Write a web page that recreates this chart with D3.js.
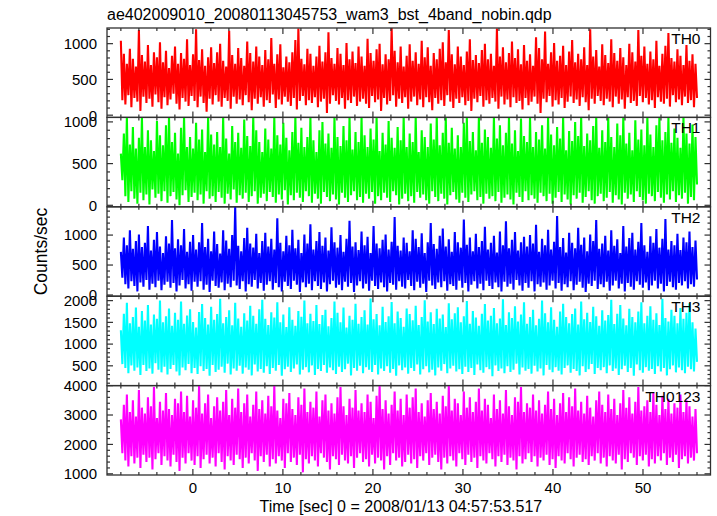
<!DOCTYPE html>
<html><head><meta charset="utf-8">
<script src="https://cdn.jsdelivr.net/npm/d3@7/dist/d3.min.js"></script>
<style>
body{margin:0;background:#fff;}
text{font-family:"Liberation Sans",Arial,Helvetica,sans-serif;fill:#000;}
</style></head>
<body><svg id="chart" width="717" height="516"></svg>
<script>
// ---- data ----
const chartTitle = "ae402009010_20080113045753_wam3_bst_4band_nobin.qdp";
const xLabel = "Time [sec] 0 = 2008/01/13 04:57:53.517";
const yLabel = "Counts/sec";
const panelNames = ["TH0","TH1","TH2","TH3","TH0123"];
const panelColors = ["#ff0000","#00ff00","#0000ff","#00ffff","#ff00ff"];
const timeStart = -8, timeEnd = 56;
const xTickValues = [0,10,20,30,40,50];
const yTickValues = [[0,500,1000],[0,500,1000],[0,500,1000],[500,1000,1500,2000],[1000,2000,3000,4000]];

const th0 = [
1040,210,860,150,720,280,930,110,790,240,680,190,1190,60,840,260,
750,170,980,230,700,120,880,290,810,180,1020,90,740,250,900,140,
660,220,830,300,960,160,720,80,870,240,790,190,1060,130,700,270,
850,200,1200,110,770,260,920,170,690,50,810,230,950,150,730,280,
880,190,1000,120,760,240,680,200,1180,90,840,260,720,160,940,220,
800,140,690,280,1030,180,870,70,750,230,960,160,820,250,700,120,
910,210,780,170,1080,290,720,100,850,220,990,150,670,260,820,190,
740,130,880,240,1050,80,1210,200,790,270,710,140,930,210,860,170,
690,250,820,110,970,190,750,230,880,30,1160,160,800,280,720,200,
940,150,860,240,700,90,1010,210,780,170,890,260,730,130,960,190,
820,230,690,160,1070,100,870,270,760,180,920,220,1000,60,710,240,
850,150,780,200,1220,280,900,120,740,230,960,170,680,250,830,90,
990,190,760,260,880,140,720,220,1040,110,810,250,950,180,690,70,
870,240,780,160,930,210,1020,130,740,280,1190,190,850,100,710,230,
960,170,820,250,700,140,890,200,1060,60,770,230,840,180,730,270,
910,120,1000,210,780,160,860,240,690,190,1210,90,820,260,950,150,
740,220,870,110,1030,250,800,170,920,200,710,80,980,240,760,140,
850,190,690,260,1090,160,940,30,780,230,1170,180,720,270,880,120,
1010,210,760,150,830,240,970,100,700,190,890,260,1050,170,740,220,
860,130,780,250,950,180,700,70,1200,230,820,160,910,270,680,200,
990,140,840,230,730,190,1060,110,870,260,760,160,940,220,810,90,
700,250,1000,170,880,200,750,130,1190,270,830,180,960,240,720,150,
890,210,780,100,1040,250,690,190,860,160,970,230,1150,120,800,280,
750,180,920,220,830,140,700,260,980,170,760,210,850,110,720,240];

const th1 = [
620,300,860,110,1060,40,730,170,940,80,680,20,810,150,1060,60,
700,130,900,10,780,190,650,90,1010,140,840,50,720,170,960,30,
1060,110,760,160,870,70,620,0,930,120,1060,180,700,40,820,100,
680,150,990,60,790,130,910,20,640,170,1060,80,850,110,730,40,
880,160,700,90,1060,20,800,140,620,70,950,190,760,30,870,120,
690,80,1030,150,830,40,710,110,1060,170,900,20,760,90,640,140,
920,50,790,160,680,100,1060,30,840,130,730,70,990,180,810,10,
660,120,880,60,1060,150,750,90,930,40,700,170,820,110,1060,30,
780,140,640,80,900,20,1000,160,740,100,860,50,690,130,1060,70,
820,10,710,150,950,90,780,40,1060,120,670,170,880,60,760,100,
1060,30,840,140,700,80,920,160,790,20,1060,110,650,60,870,150,
730,90,1010,40,810,170,690,120,940,10,780,80,1060,140,700,50,
860,110,760,30,1060,160,640,90,900,130,820,60,700,20,980,170,
790,100,1060,50,720,140,870,80,1060,10,750,120,930,160,680,70,
840,30,700,150,990,90,1060,40,770,130,880,170,660,60,1060,100,
750,20,910,140,820,80,690,110,1060,50,800,160,960,30,720,90,
870,130,1060,70,740,10,900,150,650,100,1040,40,830,170,760,60,
1060,120,700,80,880,30,790,150,960,110,680,50,1060,140,850,20,
720,90,940,160,800,40,1060,130,660,70,890,10,770,120,1000,80,
830,150,1060,30,710,100,860,170,780,60,950,20,1060,110,690,140,
900,50,760,90,1060,160,820,30,700,120,980,70,840,10,1060,150,
740,80,870,130,660,40,1020,170,790,100,910,60,720,20,1060,140,
850,110,700,50,960,160,1060,90,780,30,880,130,1060,70,750,170,
920,40,810,120,690,80,1060,150,860,20,740,100,970,60,820,250];

const th2 = [
720,290,960,180,830,110,1080,230,770,150,900,60,1010,210,800,140,
870,250,1150,90,740,190,920,130,1050,240,810,80,700,170,980,220,
860,120,1250,200,780,60,930,160,830,250,1100,110,720,180,890,70,
1000,220,760,140,880,230,1200,90,800,170,940,50,730,240,1060,150,
850,120,690,210,1080,80,910,190,770,130,1000,240,1470,160,820,100,
730,230,950,60,1120,180,860,140,790,250,1020,110,700,200,900,70,
1040,170,810,230,940,90,760,200,1280,130,870,60,730,220,990,150,
830,100,1090,240,780,170,920,50,700,210,1010,130,860,190,1180,80,
760,230,900,150,1050,100,820,210,960,60,740,180,1130,240,880,120,
790,170,1000,80,720,220,940,140,1240,200,810,50,880,160,750,230,
1060,110,830,190,970,70,700,240,1150,150,860,100,780,210,920,130,
1010,60,760,200,890,170,1300,90,820,230,740,140,960,110,870,250,
730,150,1080,80,940,220,800,120,1030,190,700,50,880,240,1200,160,
850,100,770,210,990,130,1110,230,810,70,930,180,720,150,1050,90,
880,240,790,120,1260,200,840,60,960,170,730,230,1020,110,800,190,
900,80,1140,240,760,150,870,100,990,210,710,130,1060,60,830,220,
1230,140,780,190,920,90,1050,250,740,160,880,70,970,200,810,120,
1000,230,860,60,1170,180,720,140,940,210,830,90,1090,160,760,240,
890,110,1320,200,800,70,950,180,710,130,1040,230,870,80,780,170,
1120,220,840,120,960,50,730,190,1010,150,900,240,1250,100,770,180,
860,130,990,220,740,70,1080,160,820,240,930,110,700,190,1150,60,
810,200,950,140,1040,90,760,230,890,170,1200,120,830,210,720,80,
980,160,870,240,1100,110,790,190,940,60,1270,150,760,220,900,130,
830,90,1020,200,750,160,960,230,880,110,1060,180,800,140,910,260];

const th3 = [
1320,540,1700,450,1950,330,1480,510,1620,390,1840,460,1400,290,1760,520,
1540,380,1900,440,1450,320,1680,560,1580,410,2000,350,1500,480,1640,300,
1820,430,1420,520,1720,370,1560,280,1980,460,1470,400,1660,540,1800,330,
1510,450,1380,310,1740,490,1920,380,1600,430,1450,270,1860,520,1560,360,
1690,410,2040,480,1480,340,1620,550,1780,300,1430,440,1950,390,1590,500,
1400,320,1710,460,1540,410,1880,280,1650,530,1470,370,1800,430,2020,340,
1580,490,1440,310,1730,450,1610,390,1960,520,1500,270,1680,420,1390,480,
1850,360,1560,440,1420,530,1760,300,1630,410,2000,470,1480,350,1700,510,
1530,290,1900,430,1460,380,1670,520,1790,340,1410,460,1600,400,1980,310,
1720,480,1500,360,1840,420,1380,550,1650,280,1560,450,1930,390,1470,500,
1620,330,1780,470,1450,410,2050,360,1570,520,1690,300,1430,440,1860,380,
1510,490,1640,340,1970,430,1480,270,1750,510,1600,400,1400,460,1820,320,
1690,450,1550,380,1880,530,1440,300,1620,420,2010,490,1520,350,1730,410,
1460,280,1810,460,1590,390,1680,540,1390,330,1940,440,1570,500,1710,370,
1850,420,1500,310,1640,480,1990,360,1470,450,1760,290,1610,530,1420,400,
1700,340,1920,470,1540,420,1650,260,1830,510,1480,380,1590,440,2030,330,
1440,490,1730,360,1600,410,1870,550,1520,300,1680,460,1960,390,1470,430,
1620,320,1790,500,1430,370,1580,440,2000,280,1710,520,1500,410,1850,350,
1560,470,1400,390,1750,300,1930,450,1620,510,1480,340,1690,430,1820,380,
1450,280,1980,490,1570,360,1720,420,1510,540,1860,310,1640,450,1420,400,
1780,470,1540,330,1670,510,2020,380,1460,440,1700,290,1900,420,1590,500,
1430,360,1810,450,1620,270,1500,530,1750,400,1960,340,1480,470,1650,390,
1870,430,1560,310,1710,490,1440,370,2040,450,1600,280,1520,420,1790,510,
1650,350,1480,460,1830,400,1580,330,1720,480,1940,420,1500,370,1360,590];

const th0123 = [
2850,1700,3350,1450,3700,1250,3100,1600,3500,1350,2950,1550,3850,1200,3250,1650,
3050,1400,3600,1550,3300,1150,3950,1500,2900,1700,3450,1300,3150,1600,3750,1450,
3200,1250,3000,1650,3550,1400,3400,1100,3800,1550,3100,1350,3650,1700,2950,1450,
3500,1300,3250,1600,4000,1200,3050,1500,3400,1650,3700,1350,2900,1550,3300,1250,
3600,1700,3150,1400,3450,1150,3850,1600,3000,1450,3550,1300,3250,1650,3900,1500,
3100,1200,3400,1550,3700,1350,2950,1700,3350,1450,3800,1100,3200,1600,3500,1400,
3050,1650,3650,1250,3300,1500,4000,1350,3150,1600,2900,1450,3550,1200,3400,1700,
3750,1400,3200,1550,3000,1300,3600,1650,3350,1050,3900,1500,3100,1350,3450,1600,
3250,1450,3800,1250,2950,1700,3500,1550,3700,1400,3150,1150,3400,1600,3050,1500,
3600,1300,3950,1650,3300,1450,3000,1350,3550,1600,3250,1200,3850,1550,3150,1700,
3400,1400,3100,1500,3700,1250,3450,1650,2900,1350,3650,1550,4000,1450,3200,1150,
3500,1600,3050,1300,3350,1700,3800,1450,3150,1550,3550,1250,3000,1400,3700,1650,
3250,1350,3600,1500,3900,1200,3100,1600,3400,1450,2950,1700,3500,1300,3750,1550,
3200,1650,3450,1400,3050,1150,3650,1550,3300,1350,4000,1600,3150,1450,3550,1250,
3400,1700,3000,1500,3800,1300,3250,1650,3600,1400,3100,1550,3450,1200,3900,1600,
3150,1450,3550,1350,3350,1700,2900,1500,3700,1250,3200,1600,3500,1400,3050,1650,
3850,1300,3300,1550,3000,1450,3600,1150,3450,1600,3950,1350,3100,1500,3400,1700,
3250,1400,3700,1600,3150,1250,3500,1550,3050,1450,3350,1650,3800,1300,3200,1500,
3550,1200,3000,1600,3400,1450,3750,1350,3100,1700,3600,1500,3300,1250,3900,1550,
3150,1650,3450,1400,3050,1500,3650,1300,3250,1600,2950,1450,3500,1700,3800,1350,
3350,1550,3100,1250,3700,1600,3200,1450,3550,1350,3000,1650,3400,1150,3850,1500,
3250,1400,3600,1700,3050,1550,3450,1300,3950,1600,3150,1450,3300,1650,3500,1250,
3100,1500,3750,1350,3350,1600,3000,1450,3650,1700,3200,1300,3550,1550,3050,1400,
3400,1650,3250,1200,3700,1500,3100,1600,3500,1350,3300,1550,2950,1450,3200,1700];

const seriesValues = [th0, th1, th2, th3, th0123];

// ---- layout ----
const plotLeft = 107, plotRight = 710.5, plotTop = 28, plotBottom = 475;
const yDomains = [[-31,1219],[-18,1054],[-20,1472],[45,2102],[960,4000]];
const yMinorSteps = [100,100,100,100,200];
const yMajorSteps = [500,500,500,500,1000];
const nP = panelNames.length;
const panelH = (plotBottom - plotTop) / nP;

const svg = d3.select("#chart");
const x = d3.scaleLinear().domain([-9.54, 57.5]).range([plotLeft, plotRight]);
const frameColor = "#303030";
const majorLen = 6, minorLen = 3;

svg.append("text").attr("x", plotLeft).attr("y", 20).attr("font-size", 16).text(chartTitle);

const defs = svg.append("defs");

seriesValues.forEach((vals, p) => {
  const top = plotTop + p * panelH, bot = top + panelH;
  const y = d3.scaleLinear().domain(yDomains[p]).range([bot, top]);
  const n = vals.length;
  const step = (timeEnd - timeStart) / (n - 1);
  const g = svg.append("g");
  defs.append("clipPath").attr("id", "clip" + p).append("rect")
    .attr("x", plotLeft).attr("y", top).attr("width", plotRight - plotLeft).attr("height", panelH);
  const pts = vals.map((v, i) => [timeStart + i * step, v]);
  const line = d3.line().x(d => x(d[0])).y(d => y(d[1]));
  g.append("path").attr("clip-path", `url(#clip${p})`)
    .attr("d", line(pts)).attr("fill", "none")
    .attr("stroke", panelColors[p]).attr("stroke-width", 2.1).attr("stroke-linejoin", "bevel");

  // frame
  g.append("rect").attr("x", plotLeft).attr("y", top).attr("width", plotRight - plotLeft).attr("height", panelH)
    .attr("fill", "none").attr("stroke", frameColor).attr("stroke-width", 1.3);

  // x ticks top & bottom
  d3.range(-8, 57, 2).forEach(t => {
    const L = (t % 10 === 0) ? majorLen : minorLen;
    const xx = x(t);
    g.append("line").attr("x1", xx).attr("x2", xx).attr("y1", bot).attr("y2", bot - L).attr("stroke", frameColor).attr("stroke-width", 1.2);
    g.append("line").attr("x1", xx).attr("x2", xx).attr("y1", top).attr("y2", top + L).attr("stroke", frameColor).attr("stroke-width", 1.2);
  });
  // y ticks left & right
  const [d0, d1] = yDomains[p];
  const ms = yMinorSteps[p];
  for (let v = Math.ceil(d0 / ms) * ms; v <= d1; v += ms) {
    const L = (v % yMajorSteps[p] === 0) ? majorLen : minorLen;
    const yy = y(v);
    g.append("line").attr("x1", plotLeft).attr("x2", plotLeft + L).attr("y1", yy).attr("y2", yy).attr("stroke", frameColor).attr("stroke-width", 1.2);
    g.append("line").attr("x1", plotRight).attr("x2", plotRight - L).attr("y1", yy).attr("y2", yy).attr("stroke", frameColor).attr("stroke-width", 1.2);
  }
  // y tick labels
  yTickValues[p].forEach(v => {
    g.append("text").attr("x", plotLeft - 10).attr("y", y(v)).attr("dy", "0.36em")
      .attr("text-anchor", "end").attr("font-size", 15).text(v);
  });
  // panel name
  g.append("text").attr("x", plotRight - 10).attr("y", top + 16).attr("text-anchor", "end")
    .attr("font-size", 15.5).text(panelNames[p]);

  if (p === nP - 1) {
    xTickValues.forEach(t => {
      g.append("text").attr("x", x(t)).attr("y", bot + 18).attr("text-anchor", "middle")
        .attr("font-size", 15).text(t);
    });
  }
});

svg.append("text").attr("x", x(23.1)).attr("y", 512).attr("text-anchor", "middle").attr("font-size", 16).text(xLabel);
svg.append("text").attr("transform", `translate(47,${(plotTop + plotBottom) / 2}) rotate(-90)`)
  .attr("text-anchor", "middle").attr("font-size", 17.5).text(yLabel);
</script></body></html>
